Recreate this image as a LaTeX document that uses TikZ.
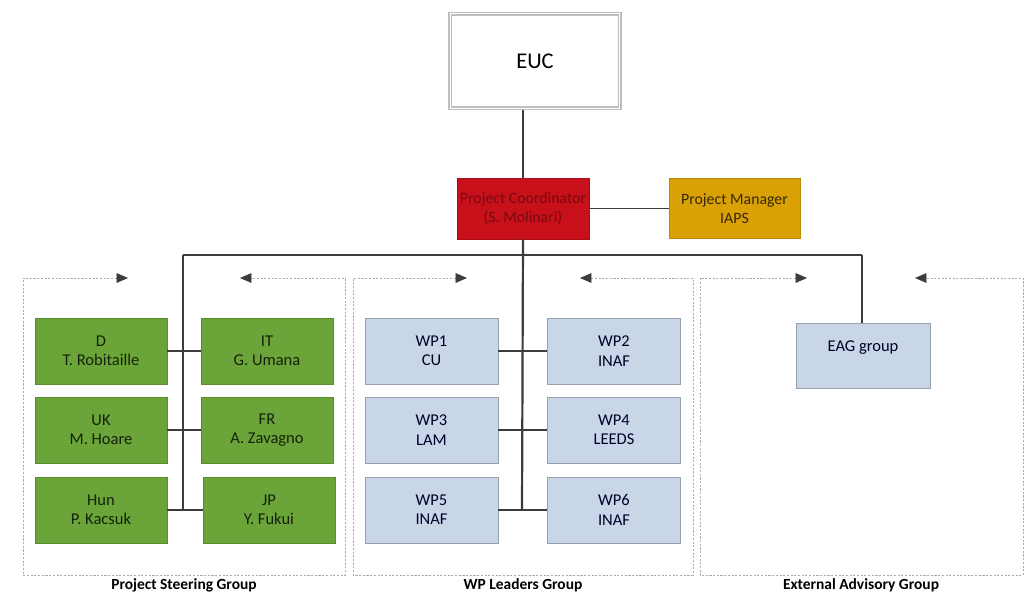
\documentclass[tikz,border=0pt]{standalone}
\usepackage{xcolor}
\usepackage{fontspec}
\setmainfont{Carlito}
\usepackage{tikz}
\usetikzlibrary{positioning, shapes, arrows.meta}

\definecolor{psggreen}{HTML}{6BA539}
\definecolor{wpblue}{HTML}{C8D6E8}
\definecolor{pcred}{HTML}{C8101A}
\definecolor{pmgold}{HTML}{D9A106}
\definecolor{linegray}{HTML}{3C3C3C}

\tikzset{
  boxtext/.style={font=\fontsize{9.4}{11}\selectfont, align=center},
  greenbox/.style={boxtext, rectangle, fill=psggreen, draw=psggreen!85!black, text=black!80!psggreen,
    minimum width=2.64cm, minimum height=1.32cm},
  bluebox/.style={boxtext, rectangle, fill=wpblue, draw=wpblue!75!black, text=black!85!blue,
    minimum width=2.66cm, minimum height=1.32cm},
  bus/.style={draw=linegray, line width=1.25pt},
  groupline/.style={draw=gray!65, line width=0.45pt, dash pattern=on 1.2pt off 0.9pt,
    {Triangle[length=6.5pt,width=5.5pt,color=linegray]}-{Triangle[length=6.5pt,width=5.5pt,color=linegray]}},
  grouplabel/.style={font=\fontsize{8.8}{10}\selectfont\bfseries}
}

\begin{document}
\begin{tikzpicture}[x=0.02cm,y=-0.02cm]

\useasboundingbox [fill=white] (0,0) rectangle (1030,598);

% top
\node (euc) at (535,61) [rectangle, draw=gray!50, line width=0.6pt,
  minimum width=3.44cm, minimum height=1.94cm, font=\fontsize{12.8}{14}\selectfont] {EUC};
\draw [gray!50, line width=0.6pt] ([shift={(3,-3)}]euc.south west) rectangle ([shift={(-3,3)}]euc.north east);

\node (coord) at (523,208.5) [boxtext, font=\fontsize{9}{11}\selectfont, inner xsep=1pt, rectangle,
  fill=pcred, draw=pcred!85!black, text=pcred!60!black,
  minimum width=2.64cm, minimum height=1.22cm] {Project Coordinator\\(S. Molinari)};
\node (manager) at (734.5,208.5) [boxtext, font=\fontsize{9}{11}\selectfont, rectangle,
  fill=pmgold, draw=pmgold!85!black, text=black!75!pmgold,
  minimum width=2.62cm, minimum height=1.2cm] {Project Manager\\IAPS};

\draw [draw=linegray, line width=0.9pt] (coord.north) -- (coord.north |- euc.south);
\draw [draw=linegray, line width=0.7pt] (coord.east) -- (coord.east -| manager.west);

% groups
\coordinate (psgtl) at (23,278);
\coordinate (psgbr) at (345,575);
\coordinate (wptl) at (353,278);
\coordinate (wpbr) at (693,575);
\coordinate (eagtl) at (700,278);
\coordinate (eagbr) at (1023,575);

\draw [groupline] (128,278) -- (psgtl) -- (psgtl |- psgbr) -- (psgbr) -- (psgbr |- psgtl) -- (240,278);
\draw [groupline] (467,278) -- (wptl) -- (wptl |- wpbr) -- (wpbr) -- (wpbr |- wptl) -- (580,278);
\draw [groupline] (807,278) -- (eagtl) -- (eagtl |- eagbr) -- (eagbr) -- (eagbr |- eagtl) -- (915,278);

\node (psglabel) at (184,585) [grouplabel] {Project Steering Group};
\node (wplabel) at (523,585) [grouplabel] {WP Leaders Group};
\node (eaglabel) at (861,585) [grouplabel] {External Advisory Group};

% steering group
\node (d) at (101,351) [greenbox] {D\\T. Robitaille};
\node (it) at (267,351) [greenbox] {IT\\G. Umana};
\node (uk) at (101,430) [greenbox] {UK\\M. Hoare};
\node (fr) at (267,430) [greenbox] {FR\\A. Zavagno};
\node (hun) at (101,510) [greenbox] {Hun\\P. Kacsuk};
\node (jp) at (269,510) [greenbox] {JP\\Y. Fukui};

% wp leaders
\node (wp1) at (431.5,351) [bluebox] {WP1\\CU};
\node (wp2) at (614,351) [bluebox] {WP2\\INAF};
\node (wp3) at (431.5,430) [bluebox] {WP3\\LAM};
\node (wp4) at (614,430) [bluebox] {WP4\\LEEDS};
\node (wp5) at (431.5,510) [bluebox] {WP5\\INAF};
\node (wp6) at (614,510) [bluebox] {WP6\\INAF};

% advisory
\node (eag) at (863,355.5) [bluebox, minimum width=2.68cm, minimum height=1.3cm] {EAG group\\\mbox{}};

% bus lines
\coordinate (busl) at (183,255);
\coordinate (busr) at (862,255);
\coordinate (psgend) at (183,510);
\coordinate (wpend) at (522,510);

\draw [bus] (busl) -- (busr);
\draw [bus] (busl) -- (psgend);
\draw [bus] (coord.south) -- (wpend);
\draw [bus] (busr) -- (eag.north -| busr);

\draw [bus] (d.east) -- (it.west);
\draw [bus] (uk.east) -- (fr.west);
\draw [bus] (hun.east) -- (jp.west);
\draw [bus] (wp1.east) -- (wp2.west);
\draw [bus] (wp3.east) -- (wp4.west);
\draw [bus] (wp5.east) -- (wp6.west);

\end{tikzpicture}
\end{document}
